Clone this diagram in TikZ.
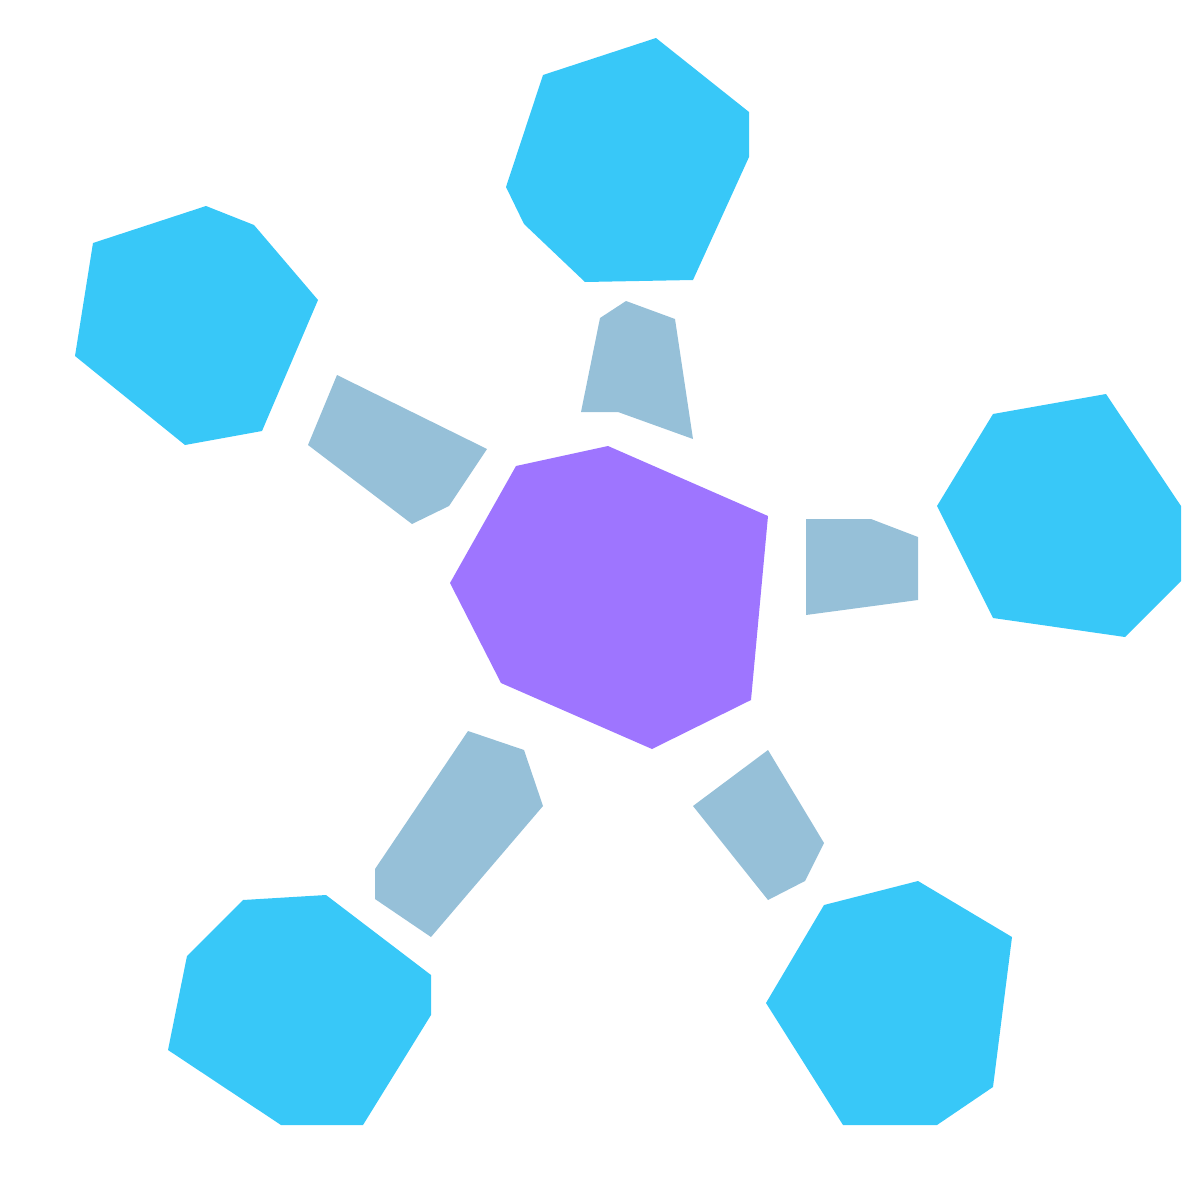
\documentclass[tikz,border=0pt]{standalone}
\usepackage{xcolor}
\definecolor{hubcol}{HTML}{9E75FF}
\definecolor{leafcol}{HTML}{38C8F8}
\definecolor{linkcol}{HTML}{96C0D8}
\tikzset{
	hub/.style={fill=hubcol},
	leaf/.style={fill=leafcol},
	link/.style={fill=linkcol}
}
\begin{document}
\begin{tikzpicture}[x=0.01cm, y=-0.01cm]
		\useasboundingbox (0,0) rectangle (1200,1200);
		% centre
		\fill[hub] (516,466) -- (608,446) -- (768,516) -- (751,700) -- (652,749) -- (501,683) -- (450,583) -- cycle;
		% outer polygons
		\fill[leaf] (543,75) -- (656,38) -- (749,112) -- (749,157) -- (693,280) -- (585,282) -- (524,224) -- (506,187) -- cycle;
		\fill[leaf] (93,243) -- (206,206) -- (254,225) -- (318,300) -- (262,431) -- (185,445) -- (75,356) -- cycle;
		\fill[leaf] (993,414) -- (1106,394) -- (1181,506) -- (1181,581) -- (1125,637) -- (993,618) -- (937,506) -- cycle;
		\fill[leaf] (243,900) -- (326,895) -- (431,975) -- (431,1015) -- (363,1125) -- (281,1125) -- (168,1050) -- (187,956) -- cycle;
		\fill[leaf] (824,905) -- (918,881) -- (1012,937) -- (993,1087) -- (937,1125) -- (843,1125) -- (766,1003) -- cycle;
		% links
		\fill[link] (600,318) -- (626,301) -- (675,319) -- (693,439) -- (618,412) -- (581,412) -- cycle;
		\fill[link] (337,375) -- (487,449) -- (449,506) -- (412,524) -- (308,445) -- cycle;
		\fill[link] (806,519) -- (871,519) -- (918,537) -- (918,600) -- (806,615) -- cycle;
		\fill[link] (468,731) -- (524,750) -- (543,806) -- (431,937) -- (375,899) -- (375,869) -- cycle;
		\fill[link] (693,806) -- (768,750) -- (824,843) -- (805,881) -- (768,900) -- cycle;
	\end{tikzpicture}
\end{document}
